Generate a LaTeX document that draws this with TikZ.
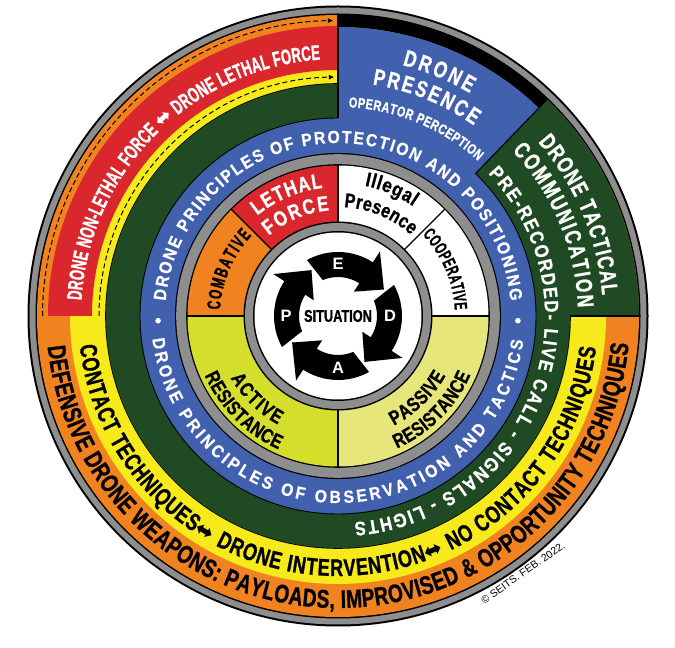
\documentclass[tikz,border=0pt]{standalone}
\usepackage{fontspec}
\setmainfont{Liberation Sans}
\newfontfamily\fsA{Liberation Sans}[FakeStretch=0.62,FakeBold=1]
\newfontfamily\fsB{Liberation Sans}[FakeStretch=0.75,FakeBold=1]
\newfontfamily\fsC{Liberation Sans}[FakeStretch=0.8,FakeBold=1]
\newfontfamily\fsD{Liberation Sans}[FakeStretch=0.9,FakeBold=0.6]
\newfontfamily\fsE{Liberation Sans}[FakeStretch=0.6,FakeBold=1]
\newfontfamily\fsF{Liberation Sans}[FakeStretch=0.85,FakeBold=1]
\newfontfamily\arrowfont{DejaVu Sans}
\usetikzlibrary{decorations.text,arrows.meta}
\definecolor{cgray}{HTML}{8E8E8E}
\definecolor{corange}{HTML}{F0821F}
\definecolor{cyellow}{HTML}{F7EA1B}
\definecolor{cred}{HTML}{D9272D}
\definecolor{cgreen}{HTML}{1F4A23}
\definecolor{cblue}{HTML}{4160AD}
\definecolor{cactive}{HTML}{D6DE2C}
\definecolor{cpassive}{HTML}{E7E67B}
% color, angle1, angle2, outer radius, inner radius
\newcommand\ringsector[5]{\fill[#1] (#2:#4) arc[start angle=#2,end angle=#3,radius=#4] -- (#3:#5) arc[start angle=#3,end angle=#2,radius=#5] -- cycle;}
% radius, start angle, end angle, colour, font, text
\newcommand\arctext[6]{\path[decorate,decoration={text along path,text align=fit to path,text color=#4,text={|#5|#6}}] (#2:#1) arc[start angle=#2,end angle=#3,radius=#1];}
\newcommand\fz[1]{\bfseries\fontsize{#1}{#1}\selectfont}
\newcommand\az[1]{\arrowfont\fontsize{#1}{#1}\selectfont}
\tikzset{
  divider/.style={black,line width=1.1pt},
  dasharrow/.style={black,line width=1pt,dash pattern=on 5pt off 3pt,-{Triangle[length=5pt,width=4.5pt]}},
  letter/.style={text=white,font=\fz{16.5}}
}
\begin{document}
\begin{tikzpicture}
\useasboundingbox (0,0) rectangle (675pt,648pt);
\begin{scope}[shift={(338pt,332pt)}]
% outer rings
\fill[black] (0,0) circle[radius=310.5pt];
\fill[cgray] (0,0) circle[radius=308.5pt];
\fill[black] (0,0) circle[radius=302.5pt];
\fill[corange] (0,0) circle[radius=301pt];
\fill[cyellow] (0,0) circle[radius=268pt];
\fill[black] (0,0) circle[radius=232.8pt];
\fill[cgreen] (0,0) circle[radius=232pt];
% outer sectors
\ringsector{cred}{90}{180}{290pt}{246pt}
\ringsector{black}{46}{90}{302pt}{289pt}
\ringsector{cblue}{46}{90}{289pt}{196pt}
\ringsector{cgreen}{0}{46}{301pt}{230pt}
% blue ring
\fill[cblue] (0,0) circle[radius=198pt];
\draw[black,line width=0.9pt] (90:198pt) arc[start angle=90,end angle=406,radius=198pt];
\draw[divider] (0:232pt) -- (0:301pt);
\draw[divider] (46:198pt) -- (46:302pt);
\draw[divider] (90:198pt) -- (90:302pt);
% gray ring
\fill[black] (0,0) circle[radius=163pt];
\fill[cgray] (0,0) circle[radius=161.8pt];
\fill[black] (0,0) circle[radius=151.8pt];
% quadrants
\ringsector{cred}{90}{135}{150.5pt}{90pt}
\ringsector{corange}{135}{180}{150.5pt}{90pt}
\ringsector{white}{0}{90}{150.5pt}{90pt}
\ringsector{cactive}{180}{270}{150.5pt}{90pt}
\ringsector{cpassive}{270}{360}{150.5pt}{90pt}
\foreach \a in {0,45,90,135,180,270}{\draw[divider] (\a:92pt) -- (\a:151pt);}
% inner ring
\fill[black] (0,0) circle[radius=94.5pt];
\fill[cgray] (0,0) circle[radius=93pt];
\fill[black] (0,0) circle[radius=85pt];
\fill[white] (0,0) circle[radius=83.5pt];
% cycle arrows
\foreach \t in {45,-45,-135,135}{
  \fill[black] (\t+68:39pt) arc[start angle=\t+68,end angle=\t+12,radius=39pt]
    -- (\t+12:29pt) -- (\t-15:53pt) -- (\t+12:77pt) -- (\t+12:64pt)
    arc[start angle=\t+12,end angle=\t+74,radius=64pt] -- cycle;
}
\node[letter] (lE) at (90:52pt) {E};
\node[letter] (lD) at (0:52pt) {D};
\node[letter] (lA) at (270:52pt) {A};
\node[letter] (lP) at (180:52pt) {P};
\node[font=\fsB\fz{17}] (sit) at (0,0) {SITUATION};
% dashed arrows
\draw[dasharrow] (180:295.5pt) arc[start angle=180,end angle=91,radius=295.5pt];
\draw[dasharrow] (180:239pt) arc[start angle=180,end angle=91,radius=239pt];
% ring texts
\arctext{292pt}{186}{354.5}{black}{\fsB\fz{25.5}}{DEFENSIVE DRONE WEAPONS: PAYLOADS, IMPROVISED {\&} OPPORTUNITY TECHNIQUES}
\arctext{260pt}{186.5}{353}{black}{\fsB\fz{24}}{CONTACT TECHNIQUES|\az{22}|⬌|\fsB\fz{24}| DRONE INTERVENTION|\az{22}|⬌|\fsB\fz{24}| NO CONTACT TECHNIQUES}
\arctext{257pt}{176.5}{94}{white}{\fsA\fz{21}}{DRONE NON-LETHAL FORCE |\az{20}|⬌|\fsA\fz{21}| DRONE LETHAL FORCE}
\arctext{173pt}{175}{5}{white}{\fsD\fz{17.5}}{DRONE PRINCIPLES OF PROTECTION AND POSITIONING}
\arctext{187pt}{187}{352.5}{white}{\fsD\fz{17.5}}{DRONE PRINCIPLES OF OBSERVATION AND TACTICS}
\fill[white] (181.5:180pt) circle[radius=2.8pt];
\fill[white] (-1.5:180pt) circle[radius=2.8pt];
\arctext{207pt}{43.5}{-85.5}{white}{\fsF\fz{19.5}}{PRE-RECORDED- LIVE CALL - SIGNALS - LIGHTS}
\arctext{265pt}{41}{4.5}{white}{\fsB\fz{23}}{DRONE TACTICAL}
\arctext{240pt}{43.5}{2}{white}{\fsB\fz{23}}{COMMUNICATION}
\arctext{259pt}{75.6}{59.4}{white}{\fsB\fz{23}}{DRONE}
\arctext{234pt}{81.5}{54.5}{white}{\fsB\fz{23}}{PRESENCE}
\arctext{209pt}{87.1}{47.9}{white}{\fsB\fz{14.5}}{OPERATOR PERCEPTION}
% quadrant texts
\arctext{129pt}{128.8}{96.8}{white}{\fsC\fz{21}}{LETHAL}
\arctext{106pt}{130.7}{94.7}{white}{\fsC\fz{21}}{FORCE}
\arctext{118pt}{177}{137}{black}{\fsA\fz{19}}{COMBATIVE}
\arctext{133pt}{78.4}{55.6}{black}{\fsF\fz{20}}{Illegal}
\arctext{109pt}{86.8}{47.9}{black}{\fsC\fz{20}}{Presence}
\arctext{117pt}{43.9}{2.9}{black}{\fsE\fz{18}}{COOPERATIVE}
\arctext{124pt}{210}{241}{black}{\fsC\fz{20}}{ACTIVE}
\arctext{146pt}{204}{246}{black}{\fsC\fz{20}}{RESISTANCE}
\arctext{123pt}{-63}{-29}{black}{\fsC\fz{20}}{PASSIVE}
\arctext{145pt}{-66}{-24}{black}{\fsC\fz{20}}{RESISTANCE}
\end{scope}
\node[rotate=35,font=\fontsize{10.5}{10.5}\selectfont] (copy) at (523pt,75pt) {© SEITS. FEB. 2022.};
\end{tikzpicture}
\end{document}
